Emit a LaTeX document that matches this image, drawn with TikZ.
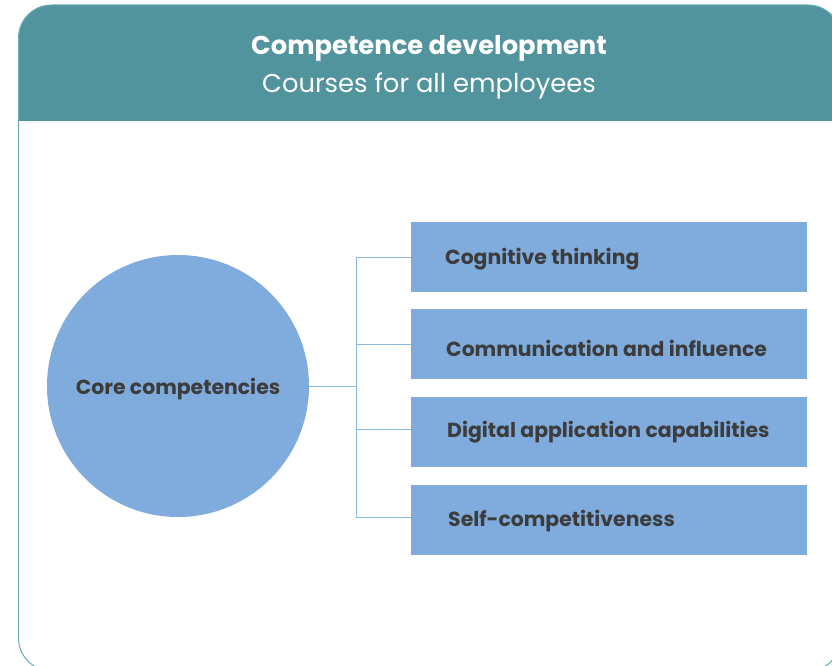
\documentclass[tikz,border=0pt]{standalone}
\usepackage{fontspec}
\setmainfont{Poppins}
\begin{document}
\begin{tikzpicture}[x=1pt,y=-1pt,
  teal/.style={fill={rgb,255:red,82;green,148;blue,158}},
  item/.style={fill={rgb,255:red,127;green,172;blue,221}, draw=none, minimum width=396pt, minimum height=70pt, inner sep=0pt},
  itemtext/.style={anchor=west, text={rgb,255:red,60;green,60;blue,60}, font=\bfseries\fontsize{20.4}{24}\selectfont, inner sep=0pt},
  conn/.style={draw={rgb,255:red,141;green,184;blue,227}, line width=1pt}
]
\useasboundingbox (0,0) rectangle (832,666);
\clip (0,0) rectangle (832,666);
% frame
\begin{scope}
\clip[rounded corners=33pt] (18.5,5) rectangle (841,671);
\fill[teal] (18.5,5) rectangle (841,121.5);
\end{scope}
\draw[draw={rgb,255:red,106;green,171;blue,181}, line width=1pt, rounded corners=33pt] (18.5,5) rectangle (841,671);
\node[text=white, font=\bfseries\fontsize{25.8}{30}\selectfont] (title) at (429,48) {Competence development};
\node[text=white, font=\fontsize{25.8}{30}\selectfont] (sub) at (429,86) {Courses for all employees};
% circle
\node[circle, fill={rgb,255:red,127;green,172;blue,221}, minimum size=262pt, inner sep=0pt] (core) at (178,386) {};
\node[text={rgb,255:red,60;green,60;blue,60}, font=\bfseries\fontsize{20.4}{24}\selectfont] (coret) at (178,389.5) {Core competencies};
% boxes
\node[item] (b1) at (609,257) {};
\node[item] (b2) at (609,344) {};
\node[item] (b3) at (609,432) {};
\node[item] (b4) at (609,520) {};
\node[itemtext] (t1) at (445,259) {Cognitive thinking};
\node[itemtext] (t2) at (446,348.5) {Communication and influence};
\node[itemtext] (t3) at (447,432.5) {Digital application capabilities};
\node[itemtext] (t4) at (448,521) {Self-competitiveness};
% connectors
\coordinate (j) at (356,386);
\draw[conn] (core.east) -- (j);
\draw[conn] (356,257) -- (356,517);
\draw[conn] (356,257) -- (b1.west |- 0,257);
\draw[conn] (356,344) -- (b2.west |- 0,344);
\draw[conn] (356,429) -- (b3.west |- 0,429);
\draw[conn] (356,517) -- (b4.west |- 0,517);
\end{tikzpicture}
\end{document}
